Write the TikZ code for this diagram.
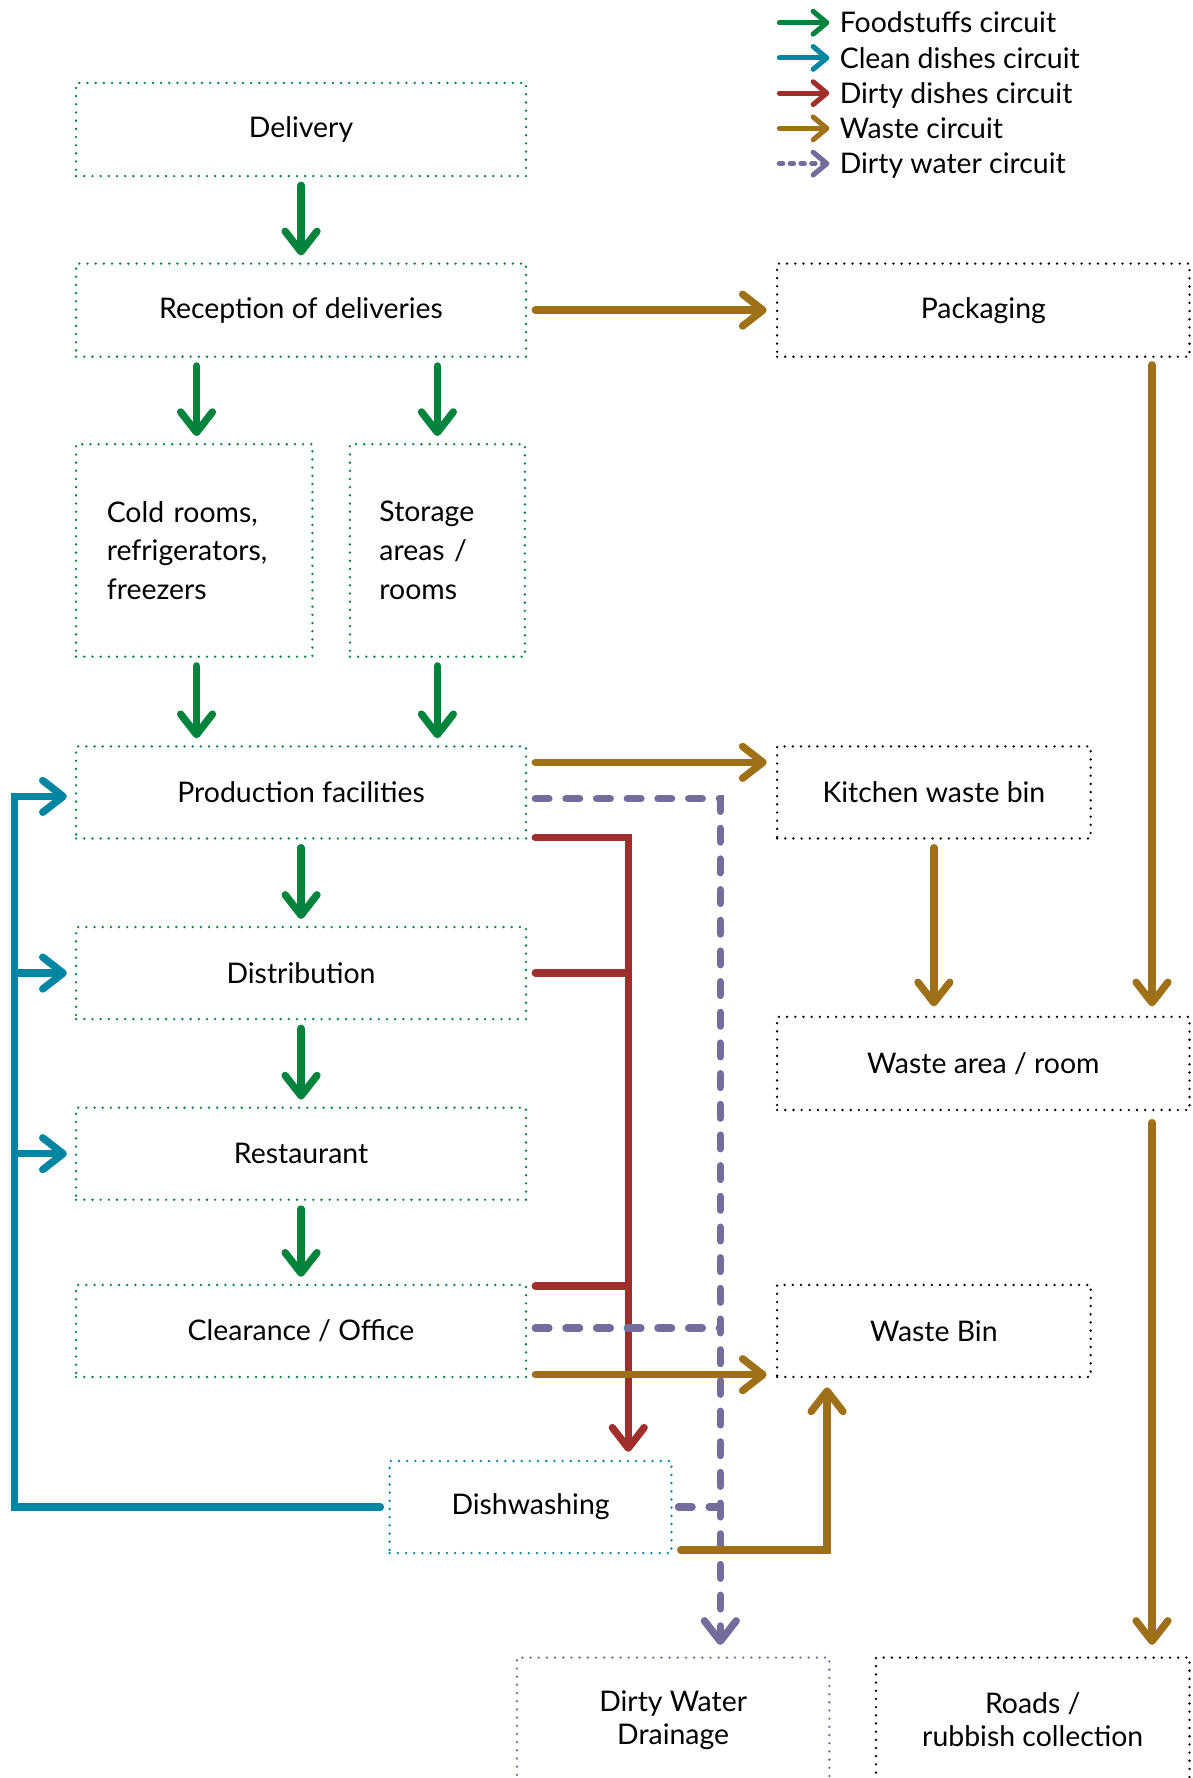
\documentclass[tikz,border=0pt]{standalone}
\usepackage{fontspec}
\setmainfont{Lato}
\usetikzlibrary{arrows.meta}
\definecolor{cgreen}{RGB}{0,132,61}
\definecolor{cteal}{RGB}{0,134,163}
\definecolor{cred}{RGB}{160,47,43}
\definecolor{cbrown}{RGB}{158,112,23}
\definecolor{cpurple}{RGB}{116,108,154}
\begin{document}
\begin{tikzpicture}[x=1pt,y=-1pt,
  >={Straight Barb[length=18pt,width=28pt,line cap=round,line join=round]},
  box/.style={draw=#1, line width=2.3pt, dash pattern=on 0pt off 7.2pt, line cap=round,
    inner sep=0pt, text=black, font=\fontsize{25}{34}\selectfont, align=center},
  flow/.style={line width=6.5pt, line cap=round},
  gflow/.style={flow, draw=cgreen, ->, shorten <=7pt, shorten >=6pt},
  wflow/.style={flow, draw=cbrown},
  rflow/.style={flow, draw=cred},
  pflow/.style={flow, draw=cpurple, dash pattern=on 12pt off 15pt},
  tflow/.style={flow, draw=cteal},
  legtext/.style={anchor=base west, inner sep=0pt, font=\fontsize{25}{30}\selectfont},
  legarrow/.style={line width=4.5pt, line cap=round, -{Straight Barb[length=12pt,width=20pt,line cap=round,line join=round]}}
]
\useasboundingbox (0,0) rectangle (1050,1565);

% ---------- nodes ----------
\node[box=cgreen, minimum width=396, minimum height=82] (deliv) at (265,114) {Delivery};
\node[box=cgreen, minimum width=396, minimum height=82] (recep) at (265,273) {Reception of deliveries};
\node[box=cgreen, minimum width=208, minimum height=187, text width=154, align=left] (cold) at (171,484.5) {\rule{0pt}{8pt}Cold rooms,\\refrigerators,\\freezers};
\node[box=cgreen, minimum width=154, minimum height=187, text width=102, align=left] (stor) at (385,484.5) {\rule{0pt}{8pt}Storage\\areas /\\rooms};
\node[box=cgreen, minimum width=396, minimum height=81] (prod) at (265,697.5) {Production facilities};
\node[box=cgreen, minimum width=396, minimum height=81] (dist) at (265,856.5) {Distribution};
\node[box=cgreen, minimum width=396, minimum height=81] (rest) at (265,1015.5) {Restaurant};
\node[box=cgreen, minimum width=396, minimum height=81] (clear) at (265,1171.5) {Clearance / Office};
\node[box=cteal, minimum width=248, minimum height=81] (dish) at (467,1326.5) {Dishwashing};
\node[box=cpurple, minimum width=275, minimum height=110, font=\fontsize{25}{29}\selectfont] (drain) at (592.5,1514) {Dirty Water\\Drainage};
\node[box=black, minimum width=276, minimum height=110, font=\fontsize{25}{29}\selectfont] (roads) at (909,1514) {Roads /\\rubbish collection};
\node[box=black, minimum width=363, minimum height=82] (pack) at (865.5,273) {Packaging};
\node[box=black, minimum width=276, minimum height=81] (kwb) at (822,697.5) {Kitchen waste bin};
\node[box=black, minimum width=363, minimum height=82] (warea) at (865.5,936) {Waste area / room};
\node[box=black, minimum width=276, minimum height=81] (wbin) at (822,1171.5) {Waste Bin};

% ---------- legend ----------
\node[legtext] (lg1) at (739,29) {Foodstuffs circuit};
\node[legtext] (lg2) at (739,60) {Clean dishes circuit};
\node[legtext] (lg3) at (739,91) {Dirty dishes circuit};
\node[legtext] (lg4) at (739,122) {Waste circuit};
\node[legtext] (lg5) at (739,153) {Dirty water circuit};
\draw[legarrow, draw=cgreen] ([shift={(-53,-9)}]lg1.base west) -- ([shift={(-9,-9)}]lg1.base west);
\draw[legarrow, draw=cteal] ([shift={(-53,-9)}]lg2.base west) -- ([shift={(-9,-9)}]lg2.base west);
\draw[legarrow, draw=cred] ([shift={(-53,-9)}]lg3.base west) -- ([shift={(-9,-9)}]lg3.base west);
\draw[legarrow, draw=cbrown] ([shift={(-53,-9)}]lg4.base west) -- ([shift={(-9,-9)}]lg4.base west);
\draw[legarrow, draw=cpurple, dash pattern=on 3pt off 6.5pt] ([shift={(-53,-9)}]lg5.base west) -- ([shift={(-9,-9)}]lg5.base west);

% ---------- foodstuffs (green) ----------
\draw[gflow] (deliv) -- (recep);
\coordinate (cx) at ([shift={(2,0)}]cold.north);
\coordinate (cxs) at ([shift={(2,0)}]cold.south);
\draw[gflow] (cx |- recep.south) -- (cx);
\draw[gflow] (stor.north |- recep.south) -- (stor.north);
\draw[gflow] (cxs) -- (cxs |- prod.north);
\draw[gflow] (stor.south) -- (stor.south |- prod.north);
\draw[gflow] (prod) -- (dist);
\draw[gflow] (dist) -- (rest);
\draw[gflow] (rest) -- (clear);

% ---------- clean dishes (teal) ----------
\coordinate (tl) at ([shift={(-53,3.5)}]prod.west);
\draw[tflow, ->] ([shift={(-7,0)}]dish.west) -| (tl) -- ([shift={(-7,3.5)}]prod.west);
\draw[tflow, ->] (tl |- dist.west) -- ([shift={(-7,0)}]dist.west);
\draw[tflow, ->] (tl |- rest.west) -- ([shift={(-7,0)}]rest.west);

% ---------- dirty dishes (red) ----------
\coordinate (rx) at ([shift={(86,0)}]dish.north);
\coordinate (cr) at ([shift={(7,-39.5)}]clear.east);
\draw[rflow, ->] ([shift={(7,-2)}]prod.south east) -| ([shift={(0,-7)}]rx);
\draw[rflow] ([shift={(7,0)}]dist.east) -- (rx |- dist.east);
\draw[rflow] (cr) -- (rx |- cr);

% ---------- dirty water (purple) ----------
\coordinate (px) at ([shift={(41.5,0)}]drain.north);
\coordinate (cp) at ([shift={(7,-2.5)}]clear.east);
\draw[pflow, ->] ([shift={(7,5.5)}]prod.east) -| ([shift={(0,-10)}]px);
\draw[pflow] (cp) -- (px |- cp);
\draw[pflow] ([shift={(5,0)}]dish.east) -- (px |- dish.east);

% ---------- waste (brown) ----------
\draw[wflow, ->, shorten <=7pt, shorten >=8pt] (recep) -- (pack);
\draw[wflow, ->] ([shift={(7,-26.5)}]prod.east) -- ([shift={(-8,-26.5)}]kwb.west);
\draw[wflow, ->] ([shift={(148.5,6)}]pack.south) -- ([shift={(148.5,-8)}]warea.north);
\draw[wflow, ->, shorten <=7pt, shorten >=8pt] (kwb.south) -- (kwb.south |- warea.north);
\draw[wflow, ->] ([shift={(148.5,10)}]warea.south) -- ([shift={(105,-10)}]roads.north);
\draw[wflow, ->] ([shift={(7,38.5)}]clear.east) -- ([shift={(-8,38.5)}]wbin.west);
\draw[wflow, ->] ([shift={(7,-4)}]dish.south east) -| ([shift={(-94,8)}]wbin.south);
\end{tikzpicture}
\end{document}
